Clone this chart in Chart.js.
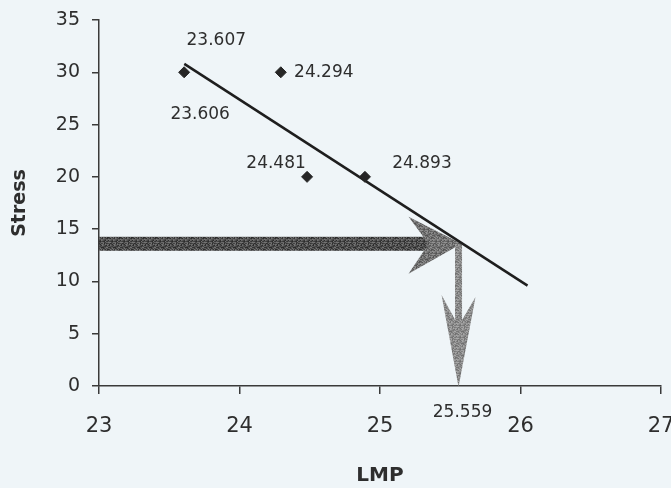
<!DOCTYPE html>
<html>
<head>
<meta charset="utf-8">
<script src="https://cdn.jsdelivr.net/npm/chart.js@4.4.1/dist/chart.umd.min.js"></script>
<style>
  html, body { margin: 0; padding: 0; background: #eff5f8; }
  #wrap { width: 671px; height: 488px; position: relative; }
</style>
</head>
<body>
<div id="wrap"><canvas id="c" width="671" height="488"></canvas></div>
<script>
// Measured samples
const lmpValues    = [23.606, 24.294, 24.481, 24.893];
const stressValues = [30, 30, 20, 20];
const pointLabels  = ['23.606', '24.294', '24.481', '24.893'];

// Fitted trend line (start and end)
const trendLmp    = [23.607, 26.05];
const trendStress = [30.8, 9.6];
const trendLabel  = '23.607';

// Reading taken from the trend line
const readLmp    = 25.559;
const readStress = 13.6;
const readLabel  = '25.559';

// Axis ticks
const xTicks = [23, 24, 25, 26, 27];
const yTicks = [0, 5, 10, 15, 20, 25, 30, 35];

// Label placement (pixel offsets from each mark)
const pointLabelOffsets = [[16, 42], [43, 0], [-31, -13], [57, -13]];
const trendLabelOffset  = [32, -23];
const readLabelOffset   = [4, 27];

const INK = '#2e2e2e';

// Fine grain used to fill the arrows
function grain(base, spread) {
  const c = document.createElement('canvas');
  c.width = 12; c.height = 12;
  const g = c.getContext('2d');
  for (let i = 0; i < 12; i++) {
    for (let j = 0; j < 12; j++) {
      const h = ((i * 7 + j * 13 + (i * j) % 5) % 9) - 4;
      const v = Math.max(0, Math.min(255, base + h * spread));
      g.fillStyle = `rgb(${v},${v},${v})`;
      g.fillRect(i, j, 1, 1);
    }
  }
  return c;
}

const arrowPlugin = {
  id: 'readingArrows',
  beforeDatasetsDraw(chart) {
    const ctx = chart.ctx;
    const xs = chart.scales.x, ys = chart.scales.y;
    const px = xs.getPixelForValue(readLmp);
    const py = ys.getPixelForValue(readStress);
    const x0 = chart.chartArea.left;
    const yb = ys.getPixelForValue(0);
    const dark = ctx.createPattern(grain(80, 9), 'repeat');
    const mid = ctx.createPattern(grain(115, 8), 'repeat');
    const light = ctx.createPattern(grain(140, 7), 'repeat');
    ctx.save();

    // horizontal arrow: from the stress axis to the trend line
    ctx.fillStyle = dark;
    ctx.fillRect(x0, py - 7, px - 26 - x0, 14);
    ctx.fillStyle = mid;
    ctx.beginPath();
    ctx.moveTo(px + 3, py);
    ctx.lineTo(px - 50, py - 27);
    ctx.lineTo(px - 30, py);
    ctx.lineTo(px - 50, py + 30);
    ctx.closePath();
    ctx.fill();

    // vertical arrow: from the trend line down to the LMP axis
    ctx.fillStyle = light;
    ctx.fillRect(px - 3.5, py, 7, (yb - 58) - py);
    ctx.beginPath();
    ctx.moveTo(px, yb + 1);
    ctx.lineTo(px - 17, yb - 91);
    ctx.lineTo(px, yb - 60);
    ctx.lineTo(px + 17, yb - 89);
    ctx.closePath();
    ctx.fill();
    ctx.restore();
  }
};

const labelPlugin = {
  id: 'valueLabels',
  afterDatasetsDraw(chart) {
    const ctx = chart.ctx;
    const xs = chart.scales.x, ys = chart.scales.y;
    ctx.save();
    ctx.fillStyle = INK;
    ctx.font = '17px "DejaVu Sans"';
    ctx.textAlign = 'center';
    ctx.textBaseline = 'middle';
    lmpValues.forEach((v, i) => {
      const x = xs.getPixelForValue(v), y = ys.getPixelForValue(stressValues[i]);
      ctx.fillText(pointLabels[i], x + pointLabelOffsets[i][0], y + pointLabelOffsets[i][1]);
    });
    ctx.fillText(trendLabel,
      xs.getPixelForValue(trendLmp[0]) + trendLabelOffset[0],
      ys.getPixelForValue(trendStress[0]) + trendLabelOffset[1]);
    ctx.fillText(readLabel,
      xs.getPixelForValue(readLmp) + readLabelOffset[0],
      ys.getPixelForValue(0) + readLabelOffset[1]);
    ctx.restore();
  }
};

new Chart(document.getElementById('c'), {
  type: 'scatter',
  data: {
    datasets: [
      {
        label: 'Samples',
        data: lmpValues.map((x, i) => ({ x, y: stressValues[i] })),
        pointStyle: 'rectRot',
        pointRadius: 5.5,
        pointBackgroundColor: '#262626',
        pointBorderColor: '#262626',
        pointBorderWidth: 1
      },
      {
        label: 'Trend',
        data: trendLmp.map((x, i) => ({ x, y: trendStress[i] })),
        showLine: true,
        borderColor: '#1e1e1e',
        borderWidth: 2.5,
        pointRadius: 0
      }
    ]
  },
  options: {
    responsive: false,
    animation: false,
    events: [],
    layout: { padding: { left: 0, right: 10, top: 20, bottom: 0 } },
    plugins: { legend: { display: false }, tooltip: { enabled: false } },
    scales: {
      x: {
        type: 'linear', min: 23, max: 27,
        afterBuildTicks: s => { s.ticks = xTicks.map(v => ({ value: v })); },
        afterFit: s => { s.height = 102; s.paddingLeft = 0; s.paddingRight = 0; },
        border: { display: true, color: '#3a3a3a', width: 1.5 },
        grid: { drawOnChartArea: false, drawTicks: true, tickLength: 8, color: '#3a3a3a', lineWidth: 1.5 },
        ticks: { color: INK, font: { family: 'DejaVu Sans', size: 21 }, padding: 20, maxRotation: 0 },
        title: { display: true, text: 'LMP', color: INK,
                 font: { family: 'DejaVu Sans', size: 20, weight: 'bold' }, padding: { top: 0, bottom: 0 } }
      },
      y: {
        type: 'linear', min: 0, max: 35,
        afterBuildTicks: s => { s.ticks = yTicks.map(v => ({ value: v })); },
        afterFit: s => { s.width = 99; s.paddingTop = 0; s.paddingBottom = 0; },
        border: { display: true, color: '#3a3a3a', width: 1.5 },
        grid: { drawOnChartArea: false, drawTicks: true, tickLength: 7, color: '#3a3a3a', lineWidth: 1.5 },
        ticks: { color: INK, font: { family: 'DejaVu Sans', size: 19 }, padding: 12 },
        title: { display: true, text: 'Stress', color: INK,
                 font: { family: 'DejaVu Sans', size: 19, weight: 'bold' }, padding: { top: 9, bottom: 0 } }
      }
    }
  },
  plugins: [arrowPlugin, labelPlugin]
});
</script>
</body>
</html>
